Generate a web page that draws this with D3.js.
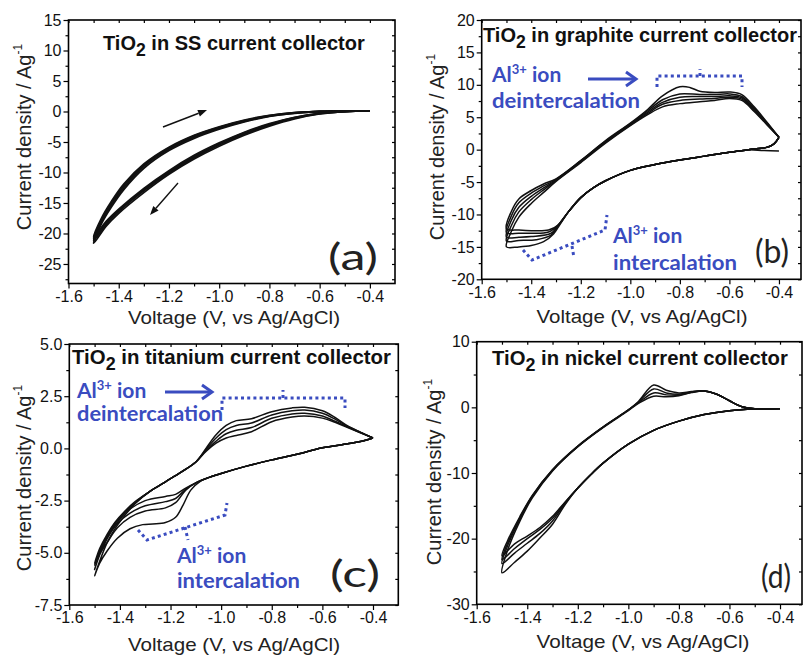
<!DOCTYPE html>
<html><head><meta charset="utf-8">
<script src="https://cdn.jsdelivr.net/npm/d3@7"></script>
<style>body{margin:0;background:#fff}svg{display:block}</style>
</head><body>
<svg id="chart" width="803" height="655"></svg>
<script>
// ---------------- DATA ----------------
const voltageTicks = [-1.6,-1.4,-1.2,-1.0,-0.8,-0.6,-0.4];
const voltageMinorTicks = [-1.5,-1.3,-1.1,-0.9,-0.7,-0.5];
const ssTicks = [15,10,5,0,-5,-10,-15,-20,-25];
const ssMinorTicks = [12.5,7.5,2.5,-2.5,-7.5,-12.5,-17.5,-22.5,-27.5];
const graphiteTicks = [20,15,10,5,0,-5,-10,-15,-20];
const graphiteMinorTicks = [17.5,12.5,7.5,2.5,-2.5,-7.5,-12.5,-17.5];
const titaniumTicks = [5.0,2.5,0.0,-2.5,-5.0,-7.5];
const titaniumMinorTicks = [3.75,1.25,-1.25,-3.75,-6.25];
const nickelTicks = [10,0,-10,-20,-30];
const nickelMinorTicks = [5,-5,-15,-25];

const panelTitles = ["in SS current collector","in graphite current collector","in titanium current collector","in nickel current collector"];
const panelLetters = ["(a)","(b)","(c)","(d)"];

// (a) stainless steel – 4 cycles [V, A/g]
const ssCycles = [
 [[-0.4,0.1],[-0.5,0.0],[-0.6,-0.4],[-0.7,-1.2],[-0.8,-2.4],[-0.9,-3.9],[-1.0,-5.7],[-1.1,-7.8],[-1.2,-10.3],[-1.3,-13.3],[-1.4,-16.7],[-1.45,-18.8],[-1.5,-21.6],[-1.47,-18.5],[-1.43,-15.7],[-1.38,-12.8],[-1.3,-9.3],[-1.2,-6.4],[-1.1,-4.4],[-1.0,-2.9],[-0.9,-1.7],[-0.8,-0.8],[-0.7,-0.3],[-0.6,0.0],[-0.5,0.1],[-0.4,0.1]],
 [[-0.4,0.1],[-0.5,0.0],[-0.6,-0.35],[-0.7,-1.1],[-0.8,-2.25],[-0.9,-3.7],[-1.0,-5.5],[-1.1,-7.6],[-1.2,-10.1],[-1.3,-13.0],[-1.4,-16.4],[-1.45,-18.5],[-1.5,-21.2],[-1.47,-18.2],[-1.43,-15.4],[-1.38,-12.5],[-1.3,-9.0],[-1.2,-6.2],[-1.1,-4.2],[-1.0,-2.75],[-0.9,-1.6],[-0.8,-0.75],[-0.7,-0.25],[-0.6,0.0],[-0.5,0.1],[-0.4,0.1]],
 [[-0.4,0.1],[-0.5,0.0],[-0.6,-0.3],[-0.7,-1.0],[-0.8,-2.1],[-0.9,-3.5],[-1.0,-5.3],[-1.1,-7.4],[-1.2,-9.9],[-1.3,-12.8],[-1.4,-16.2],[-1.45,-18.2],[-1.5,-20.9],[-1.47,-17.9],[-1.43,-15.1],[-1.38,-12.2],[-1.3,-8.8],[-1.2,-6.0],[-1.1,-4.0],[-1.0,-2.6],[-0.9,-1.5],[-0.8,-0.7],[-0.7,-0.2],[-0.6,0.0],[-0.5,0.1],[-0.4,0.1]],
 [[-0.4,0.1],[-0.5,0.0],[-0.6,-0.3],[-0.7,-0.95],[-0.8,-2.0],[-0.9,-3.4],[-1.0,-5.15],[-1.1,-7.2],[-1.2,-9.7],[-1.3,-12.6],[-1.4,-16.0],[-1.45,-18.0],[-1.5,-20.6],[-1.47,-17.6],[-1.43,-14.8],[-1.38,-11.9],[-1.3,-8.6],[-1.2,-5.85],[-1.1,-3.9],[-1.0,-2.5],[-0.9,-1.4],[-0.8,-0.65],[-0.7,-0.2],[-0.6,0.0],[-0.5,0.1],[-0.4,0.1]]
];

// (b) graphite – initial start + 5 cycles
const graphiteCycles = [
 [[-0.4,-0.22],[-0.46,-0.15],[-0.52,0.0]],
 [[-0.4,1.9],[-0.42,0.9],[-0.45,0.35],[-0.5,0.1],[-0.6,-0.4],[-0.7,-1.0],[-0.8,-1.6],[-0.9,-2.3],[-1.0,-3.2],[-1.1,-4.8],[-1.15,-5.9],[-1.2,-7.4],[-1.25,-9.6],[-1.29,-11.6],[-1.33,-12.4],[-1.4,-12.5],[-1.45,-12.4],[-1.5,-12.2],[-1.48,-9.5],[-1.45,-7.6],[-1.4,-6.3],[-1.35,-5.3],[-1.3,-4.5],[-1.2,-1.7],[-1.1,1.4],[-1.0,4.1],[-0.93,6.2],[-0.87,8.3],[-0.8,9.7],[-0.76,9.6],[-0.72,9.0],[-0.66,8.8],[-0.6,8.9],[-0.55,8.5],[-0.5,6.6],[-0.45,4.3],[-0.4,1.9]],
 [[-0.4,1.9],[-0.42,0.9],[-0.45,0.35],[-0.5,0.1],[-0.6,-0.4],[-0.7,-1.0],[-0.8,-1.6],[-0.9,-2.3],[-1.0,-3.2],[-1.1,-4.8],[-1.15,-5.9],[-1.2,-7.4],[-1.25,-9.6],[-1.29,-11.6],[-1.33,-12.7],[-1.4,-12.9],[-1.45,-12.9],[-1.5,-12.8],[-1.48,-10.2],[-1.45,-8.2],[-1.4,-6.7],[-1.35,-5.6],[-1.3,-4.6],[-1.2,-1.7],[-1.1,1.3],[-1.0,4.0],[-0.93,6.0],[-0.87,7.7],[-0.8,8.6],[-0.72,8.5],[-0.66,8.5],[-0.6,8.6],[-0.55,8.2],[-0.5,6.4],[-0.45,4.2],[-0.4,1.9]],
 [[-0.4,1.9],[-0.42,0.9],[-0.45,0.35],[-0.5,0.1],[-0.6,-0.4],[-0.7,-1.0],[-0.8,-1.6],[-0.9,-2.3],[-1.0,-3.2],[-1.1,-4.8],[-1.15,-5.9],[-1.2,-7.4],[-1.25,-9.6],[-1.29,-11.6],[-1.32,-12.9],[-1.4,-13.4],[-1.45,-13.5],[-1.5,-13.5],[-1.48,-10.9],[-1.45,-8.9],[-1.4,-7.2],[-1.35,-5.9],[-1.3,-4.7],[-1.2,-1.8],[-1.1,1.2],[-1.0,3.9],[-0.93,5.8],[-0.87,7.3],[-0.8,8.1],[-0.72,8.2],[-0.66,8.2],[-0.6,8.3],[-0.55,8.0],[-0.5,6.2],[-0.45,4.1],[-0.4,1.9]],
 [[-0.4,1.9],[-0.42,0.9],[-0.45,0.35],[-0.5,0.1],[-0.6,-0.4],[-0.7,-1.0],[-0.8,-1.6],[-0.9,-2.3],[-1.0,-3.2],[-1.1,-4.8],[-1.15,-5.9],[-1.2,-7.4],[-1.25,-9.6],[-1.29,-11.6],[-1.32,-13.2],[-1.38,-13.9],[-1.45,-14.0],[-1.5,-14.1],[-1.48,-11.7],[-1.45,-9.6],[-1.4,-7.7],[-1.35,-6.2],[-1.3,-4.8],[-1.2,-1.9],[-1.1,1.1],[-1.0,3.8],[-0.93,5.6],[-0.87,7.0],[-0.8,7.6],[-0.72,7.8],[-0.66,7.9],[-0.6,8.1],[-0.55,7.8],[-0.5,6.0],[-0.45,4.0],[-0.4,1.9]],
 [[-0.4,1.9],[-0.42,0.9],[-0.45,0.35],[-0.5,0.1],[-0.6,-0.4],[-0.7,-1.0],[-0.8,-1.6],[-0.9,-2.3],[-1.0,-3.2],[-1.1,-4.8],[-1.15,-5.9],[-1.2,-7.4],[-1.25,-9.6],[-1.29,-11.9],[-1.31,-13.0],[-1.35,-14.2],[-1.4,-14.8],[-1.45,-15.0],[-1.5,-15.0],[-1.48,-12.6],[-1.45,-10.4],[-1.4,-8.3],[-1.35,-6.6],[-1.3,-4.9],[-1.2,-2.0],[-1.1,1.0],[-1.0,3.7],[-0.93,5.4],[-0.87,6.6],[-0.8,7.1],[-0.72,7.4],[-0.66,7.6],[-0.6,7.9],[-0.55,7.6],[-0.5,5.9],[-0.45,3.9],[-0.4,1.9]]
];

// (c) titanium – 4 cycles
const titaniumCycles = [
 [[-0.4,0.5],[-0.45,0.33],[-0.5,0.22],[-0.6,0.03],[-0.7,-0.28],[-0.8,-0.55],[-0.9,-0.85],[-1.0,-1.2],[-1.05,-1.4],[-1.08,-1.55],[-1.12,-2.0],[-1.15,-2.7],[-1.18,-3.3],[-1.22,-3.55],[-1.27,-3.62],[-1.31,-3.65],[-1.36,-3.85],[-1.41,-4.3],[-1.45,-4.9],[-1.48,-5.5],[-1.5,-6.1],[-1.48,-5.4],[-1.45,-4.5],[-1.42,-3.85],[-1.38,-3.2],[-1.34,-2.65],[-1.28,-2.05],[-1.22,-1.6],[-1.16,-1.15],[-1.1,-0.65],[-1.06,-0.15],[-1.02,0.25],[-0.98,0.5],[-0.94,0.62],[-0.88,0.8],[-0.8,1.28],[-0.72,1.5],[-0.67,1.55],[-0.6,1.45],[-0.55,1.25],[-0.5,1.0],[-0.45,0.75],[-0.4,0.5]],
 [[-0.4,0.5],[-0.45,0.33],[-0.5,0.22],[-0.6,0.03],[-0.7,-0.28],[-0.8,-0.55],[-0.9,-0.85],[-1.0,-1.2],[-1.05,-1.4],[-1.1,-1.65],[-1.14,-2.0],[-1.18,-2.6],[-1.22,-2.85],[-1.3,-3.0],[-1.36,-3.3],[-1.41,-3.8],[-1.45,-4.5],[-1.48,-5.1],[-1.5,-5.8],[-1.48,-5.1],[-1.45,-4.3],[-1.42,-3.7],[-1.38,-3.1],[-1.34,-2.6],[-1.28,-2.05],[-1.22,-1.6],[-1.16,-1.15],[-1.1,-0.65],[-1.06,-0.1],[-1.02,0.35],[-0.98,0.7],[-0.94,0.87],[-0.88,1.0],[-0.8,1.44],[-0.72,1.65],[-0.67,1.68],[-0.6,1.55],[-0.55,1.3],[-0.5,1.02],[-0.45,0.76],[-0.4,0.5]],
 [[-0.4,0.5],[-0.45,0.33],[-0.5,0.22],[-0.6,0.03],[-0.7,-0.28],[-0.8,-0.55],[-0.9,-0.85],[-1.0,-1.2],[-1.05,-1.4],[-1.1,-1.65],[-1.14,-1.95],[-1.18,-2.4],[-1.22,-2.55],[-1.3,-2.75],[-1.36,-3.1],[-1.41,-3.6],[-1.45,-4.3],[-1.48,-5.0],[-1.5,-5.6],[-1.48,-4.9],[-1.45,-4.2],[-1.42,-3.6],[-1.38,-3.05],[-1.34,-2.6],[-1.28,-2.05],[-1.22,-1.6],[-1.16,-1.15],[-1.1,-0.65],[-1.06,-0.05],[-1.02,0.5],[-0.98,0.9],[-0.94,1.1],[-0.88,1.22],[-0.8,1.6],[-0.72,1.8],[-0.67,1.84],[-0.6,1.68],[-0.55,1.4],[-0.5,1.05],[-0.45,0.77],[-0.4,0.5]],
 [[-0.4,0.5],[-0.45,0.33],[-0.5,0.22],[-0.6,0.03],[-0.7,-0.28],[-0.8,-0.55],[-0.9,-0.85],[-1.0,-1.2],[-1.05,-1.4],[-1.1,-1.65],[-1.14,-1.9],[-1.18,-2.2],[-1.22,-2.3],[-1.3,-2.5],[-1.36,-2.9],[-1.41,-3.45],[-1.45,-4.2],[-1.48,-4.9],[-1.5,-5.5],[-1.48,-4.8],[-1.45,-4.1],[-1.42,-3.55],[-1.38,-3.0],[-1.34,-2.55],[-1.28,-2.05],[-1.22,-1.6],[-1.16,-1.15],[-1.1,-0.65],[-1.06,0.0],[-1.02,0.65],[-0.98,1.1],[-0.94,1.33],[-0.88,1.42],[-0.8,1.76],[-0.72,1.94],[-0.67,1.97],[-0.6,1.8],[-0.55,1.48],[-0.5,1.08],[-0.45,0.78],[-0.4,0.5]]
];

// (d) nickel – 4 cycles
const nickelCycles = [
 [[-0.4,-0.2],[-0.5,-0.25],[-0.6,-0.5],[-0.7,-1.1],[-0.8,-2.1],[-0.9,-3.5],[-1.0,-5.6],[-1.1,-8.5],[-1.15,-10.3],[-1.2,-12.3],[-1.25,-14.4],[-1.3,-16.6],[-1.35,-18.3],[-1.4,-19.6],[-1.45,-20.8],[-1.5,-22.6],[-1.48,-20.5],[-1.43,-16.7],[-1.38,-13.4],[-1.3,-9.5],[-1.2,-5.9],[-1.1,-3.0],[-1.0,-0.4],[-0.96,0.9],[-0.9,3.4],[-0.85,2.6],[-0.8,2.2],[-0.75,2.4],[-0.7,2.5],[-0.65,2.0],[-0.6,1.0],[-0.55,0.1],[-0.5,-0.2],[-0.4,-0.2]],
 [[-0.4,-0.2],[-0.5,-0.25],[-0.6,-0.5],[-0.7,-1.1],[-0.8,-2.1],[-0.9,-3.5],[-1.0,-5.6],[-1.1,-8.5],[-1.15,-10.3],[-1.2,-12.3],[-1.25,-14.5],[-1.3,-16.9],[-1.35,-18.6],[-1.4,-20.0],[-1.45,-21.5],[-1.5,-23.2],[-1.48,-20.9],[-1.43,-16.9],[-1.38,-13.5],[-1.3,-9.5],[-1.2,-5.9],[-1.1,-3.0],[-1.0,-0.4],[-0.96,0.8],[-0.9,2.8],[-0.85,2.2],[-0.8,2.0],[-0.75,2.35],[-0.7,2.5],[-0.65,2.0],[-0.6,1.0],[-0.55,0.1],[-0.5,-0.2],[-0.4,-0.2]],
 [[-0.4,-0.2],[-0.5,-0.25],[-0.6,-0.5],[-0.7,-1.1],[-0.8,-2.1],[-0.9,-3.5],[-1.0,-5.6],[-1.1,-8.5],[-1.15,-10.3],[-1.2,-12.3],[-1.25,-14.6],[-1.3,-17.3],[-1.35,-19.2],[-1.4,-20.7],[-1.45,-22.2],[-1.5,-23.8],[-1.48,-21.3],[-1.43,-17.1],[-1.38,-13.6],[-1.3,-9.6],[-1.2,-6.0],[-1.1,-3.0],[-1.0,-0.4],[-0.96,0.7],[-0.9,2.2],[-0.85,1.9],[-0.8,1.85],[-0.75,2.3],[-0.7,2.5],[-0.65,2.0],[-0.6,1.0],[-0.55,0.1],[-0.5,-0.2],[-0.4,-0.2]],
 [[-0.4,-0.2],[-0.5,-0.25],[-0.6,-0.5],[-0.7,-1.1],[-0.8,-2.1],[-0.9,-3.5],[-1.0,-5.6],[-1.1,-8.5],[-1.15,-10.3],[-1.2,-12.3],[-1.25,-14.8],[-1.3,-17.8],[-1.35,-19.9],[-1.4,-21.9],[-1.45,-23.6],[-1.5,-25.2],[-1.48,-22.0],[-1.43,-17.4],[-1.38,-13.8],[-1.3,-9.7],[-1.2,-6.0],[-1.1,-3.1],[-1.0,-0.5],[-0.96,0.6],[-0.9,1.7],[-0.85,1.6],[-0.8,1.75],[-0.75,2.25],[-0.7,2.5],[-0.65,2.0],[-0.6,1.0],[-0.55,0.1],[-0.5,-0.2],[-0.4,-0.2]]
];

// ---------------- DRAW ----------------
const svg = d3.select('#chart');
const AX_FONT = "'Liberation Sans', Arial, sans-serif";
const CAL_FONT = "Lato, 'Open Sans', sans-serif";
const BLUE = "#3a4cc0";

const panels = [
  {frame:[68.5,20,395,283.5], xDom:[-1.6,-0.3], yDom:[-28.2,15], ticks:ssTicks, minor:ssMinorTicks, fmt:d=>String(d), cycles:ssCycles,
   title:{x:103,y:50,fs:20}, ytitle:{x:31,cy:137,len:223}, xtitle:{cx:234,y:324,len:212}, letter:{x:328,y:270,w:50,fs:36}},
  {frame:[481.7,20,801,279.3], xDom:[-1.6,-0.311], yDom:[-20,20], ticks:graphiteTicks, minor:graphiteMinorTicks, fmt:d=>String(d), cycles:graphiteCycles,
   title:{x:483,y:42,fs:20}, ytitle:{x:444,cy:147,len:185}, xtitle:{cx:642,y:323,len:211}, letter:{x:755,y:263,w:34,fs:32}},
  {frame:[69.3,344,398.3,605], xDom:[-1.6,-0.3], yDom:[-7.5,5], ticks:titaniumTicks, minor:titaniumMinorTicks, fmt:d=>d.toFixed(1), cycles:titaniumCycles,
   title:{x:72,y:364,fs:20.4}, ytitle:{x:31,cy:478,len:229}, xtitle:{cx:234,y:651,len:212}, letter:{x:330,y:587,w:50,fs:36}},
  {frame:[476.7,341.7,802,604.3], xDom:[-1.6,-0.313], yDom:[-30,10], ticks:nickelTicks, minor:nickelMinorTicks, fmt:d=>String(d), cycles:nickelCycles,
   title:{x:492,y:365,fs:20.3}, ytitle:{x:441,cy:472,len:185}, xtitle:{cx:643,y:648,len:213}, letter:{x:761,y:588,w:30,fs:32}}
];

panels.forEach((p,i)=>{
  const [x0,y0,x1,y1] = p.frame;
  const x = d3.scaleLinear().domain(p.xDom).range([x0,x1]);
  const y = d3.scaleLinear().domain(p.yDom).range([y1,y0]);
  const g = svg.append('g');

  const line = d3.line().x(d=>x(d[0])).y(d=>y(d[1])).curve(d3.curveCatmullRom.alpha(0.5));
  g.append('g').selectAll('path').data(p.cycles).join('path')
    .attr('d', line).attr('fill','none').attr('stroke','#111').attr('stroke-width',i===0?1.8:1.5)
    .attr('stroke-linejoin','round');

  const styleAxis = sel => { sel.select('.domain').remove(); sel.selectAll('line').attr('stroke','#000').attr('stroke-width',1.2);
    sel.selectAll('text').attr('font-family',AX_FONT).attr('font-size',16).attr('fill','#111'); };

  g.append('g').attr('transform',`translate(0,${y1})`)
    .call(d3.axisBottom(x).tickValues(voltageTicks).tickFormat(d=>d.toFixed(1)).tickSize(5).tickPadding(2)).call(styleAxis);
  g.append('g').attr('transform',`translate(0,${y1})`)
    .call(d3.axisBottom(x).tickValues(voltageMinorTicks).tickFormat('').tickSize(3)).call(styleAxis);
  g.append('g').attr('transform',`translate(${x0},0)`)
    .call(d3.axisLeft(y).tickValues(p.ticks).tickFormat(p.fmt).tickSize(5).tickPadding(2)).call(styleAxis);
  g.append('g').attr('transform',`translate(${x0},0)`)
    .call(d3.axisLeft(y).tickValues(p.minor).tickFormat('').tickSize(3)).call(styleAxis);
  g.append('g').attr('transform',`translate(0,${y0})`)
    .call(d3.axisTop(x).tickValues(voltageTicks.concat(voltageMinorTicks)).tickFormat('').tickSize(-3)).call(styleAxis);
  g.append('g').attr('transform',`translate(${x1},0)`)
    .call(d3.axisRight(y).tickValues(p.ticks.concat(p.minor)).tickFormat('').tickSize(-3)).call(styleAxis);

  g.append('rect').attr('x',x0).attr('y',y0).attr('width',x1-x0).attr('height',y1-y0)
    .attr('fill','none').attr('stroke','#000').attr('stroke-width',1.6);

  const t = g.append('text').attr('x',p.title.x).attr('y',p.title.y)
    .attr('font-family',AX_FONT).attr('font-weight','bold').attr('font-size',p.title.fs).attr('fill','#111');
  t.append('tspan').text('TiO');
  t.append('tspan').text('2').attr('font-size',p.title.fs*0.88).attr('dy',6);
  t.append('tspan').text(' ' + panelTitles[i]).attr('dy',-6);

  const yt = g.append('text').attr('transform',`translate(${p.ytitle.x},${p.ytitle.cy}) rotate(-90)`)
    .attr('text-anchor','middle').attr('font-family',AX_FONT).attr('font-size',20).attr('fill','#222');
  yt.append('tspan').text('Current density / Ag');
  yt.append('tspan').text('-1').attr('font-size',12).attr('dy',-9);

  g.append('text').attr('x',p.xtitle.cx).attr('y',p.xtitle.y).attr('text-anchor','middle')
    .attr('font-family',AX_FONT).attr('font-size',19).attr('fill','#222')
    .attr('textLength',p.xtitle.len).attr('lengthAdjust','spacingAndGlyphs')
    .text('Voltage (V, vs Ag/AgCl)');

  g.append('text').attr('x',p.letter.x).attr('y',p.letter.y)
    .attr('font-family',CAL_FONT).attr('font-size',p.letter.fs).attr('fill','#222')
    .attr('textLength',p.letter.w).attr('lengthAdjust','spacingAndGlyphs')
    .text(panelLetters[i]);
});

// ---- annotations ----
function blueLabel(x, y, y2, w2, word2){
  const a = svg.append('text').attr('x',x).attr('y',y).attr('font-family',CAL_FONT)
    .attr('font-weight','bold').attr('font-size',21).attr('fill',BLUE);
  a.append('tspan').text('Al');
  a.append('tspan').text('3+').attr('font-size',13).attr('dy',-8);
  a.append('tspan').text(' ion').attr('dy',8);
  svg.append('text').attr('x',x).attr('y',y2).attr('font-family',CAL_FONT)
    .attr('font-weight','bold').attr('font-size',21).attr('fill',BLUE)
    .attr('textLength',w2).attr('lengthAdjust','spacingAndGlyphs').text(word2);
}
function dotted(points){
  svg.append('path').attr('d', d3.line()(points)).attr('fill','none').attr('stroke',BLUE)
    .attr('stroke-width',3).attr('stroke-dasharray','3,3.2');
}
function blueArrow(xa, xb, yy){
  svg.append('line').attr('x1',xa).attr('y1',yy).attr('x2',xb-2).attr('y2',yy)
    .attr('stroke',BLUE).attr('stroke-width',3);
  svg.append('path').attr('d',`M${xb-10},${yy-7} L${xb},${yy} L${xb-10},${yy+7}`)
    .attr('fill','none').attr('stroke',BLUE).attr('stroke-width',3);
}
function blackArrow(xa,ya,xb,yb){
  const ang = Math.atan2(yb-ya, xb-xa), L=9, W=3.5;
  const bx = xb - L*Math.cos(ang), by = yb - L*Math.sin(ang);
  svg.append('line').attr('x1',xa).attr('y1',ya).attr('x2',bx).attr('y2',by).attr('stroke','#111').attr('stroke-width',1.4);
  svg.append('path').attr('d',`M${xb},${yb} L${bx - W*Math.sin(ang)},${by + W*Math.cos(ang)} L${bx + W*Math.sin(ang)},${by - W*Math.cos(ang)} Z`).attr('fill','#111');
}

blackArrow(163,127,207,110);
blackArrow(178,183,150,215);

blueLabel(492,82,108,148,'deintercalation');
blueArrow(588,636,79);
dotted([[657,87],[657,76],[742,76],[742,87]]);
dotted([[700,76],[700,69]]);
blueLabel(613,243,270,124,'intercalation');
dotted([[523,250],[532,260],[605,230],[607,215]]);
dotted([[572,246],[574,258]]);

blueLabel(77,398,421,146,'deintercalation');
blueArrow(165,212,392);
dotted([[222,410],[222,398],[345,398],[345,408]]);
dotted([[283,398],[283,390]]);
blueLabel(177,563,588,123,'intercalation');
dotted([[138,530],[147,540],[225,515],[227,503]]);
dotted([[185,527],[188,540]]);
</script>
</body></html>
